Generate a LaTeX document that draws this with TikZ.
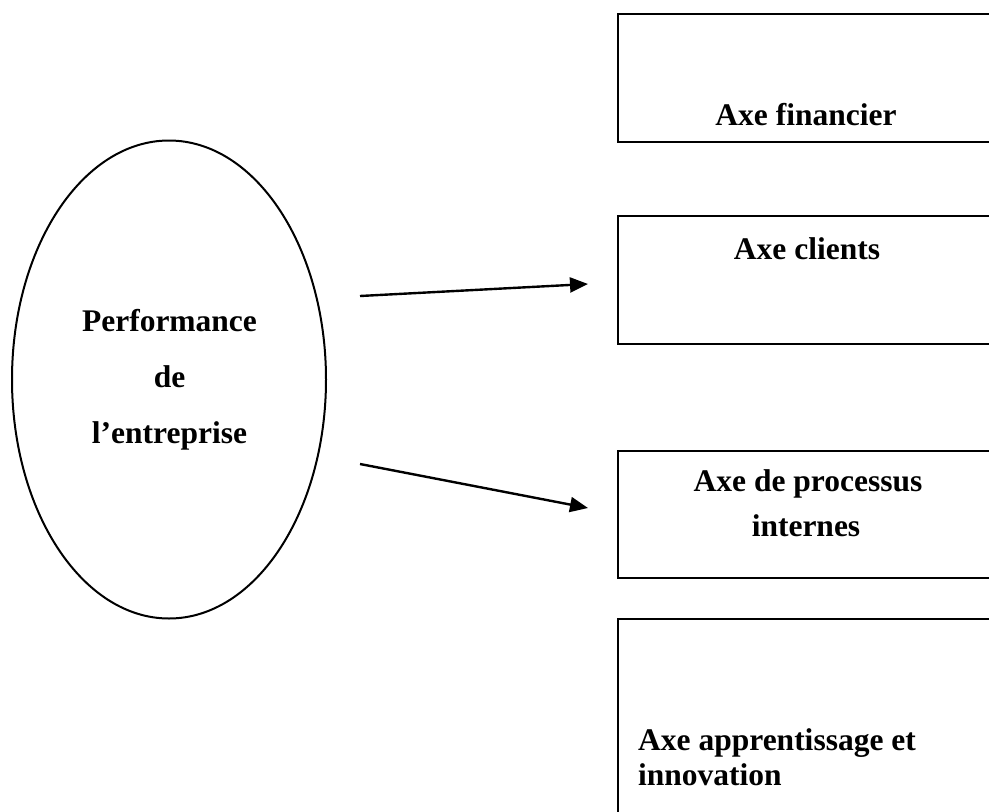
\documentclass[tikz,border=0pt]{standalone}
\usepackage{fontspec}
\setmainfont{Liberation Serif}
\usetikzlibrary{arrows.meta,shapes.geometric}
\begin{document}
\begin{tikzpicture}[x=1pt,y=-1pt,
  axebox/.style={draw, line width=2.4pt, rectangle, anchor=north west, inner sep=0pt, minimum width=390pt},
  lbl/.style={font=\fontsize{31.5}{34}\selectfont\bfseries, inner sep=0pt, anchor=base},
  link/.style={line width=2.4pt, -{Triangle[length=18pt,width=15pt]}}]
\useasboundingbox (0,0) rectangle (989,812);
\clip (0,0) rectangle (989,812);

% central ellipse
\node (perf) [ellipse, draw, line width=2pt, minimum width=314pt, minimum height=478pt, inner sep=0pt] at (169,379.5) {};
\node[lbl] (perf1) at (169.5,331) {Performance};
\node[lbl] (perf2) at (169.5,387) {de};
\node[lbl] (perf3) at (169.5,443) {l’entreprise};

% the four axes (right side runs past the page edge)
\node (fin)  [axebox, minimum height=128pt] at (617,13) {};
\node (cli)  [axebox, minimum height=128pt] at (617,215) {};
\node (proc) [axebox, minimum height=127pt] at (617,450) {};
\node (app)  [axebox, minimum height=260pt] at (617,618) {};

\node[lbl] (tfin)   at (806,125) {Axe financier};
\node[lbl] (tcli)   at (807,259) {Axe clients};
\node[lbl] (tproc1) at (808,491) {Axe de processus};
\node[lbl] (tproc2) at (806,536) {internes};
\node[lbl, anchor=base west] (tapp1) at (638,750) {Axe apprentissage et};
\node[lbl, anchor=base west] (tapp2) at (638,785) {innovation};

% arrows
\coordinate (a1s) at (360,296);
\coordinate (a1e) at (588,284);
\coordinate (a2s) at (360,464);
\coordinate (a2e) at (588,508);
\draw[link] (a1s) -- (a1e);
\draw[link] (a2s) -- (a2e);
\end{tikzpicture}
\end{document}
